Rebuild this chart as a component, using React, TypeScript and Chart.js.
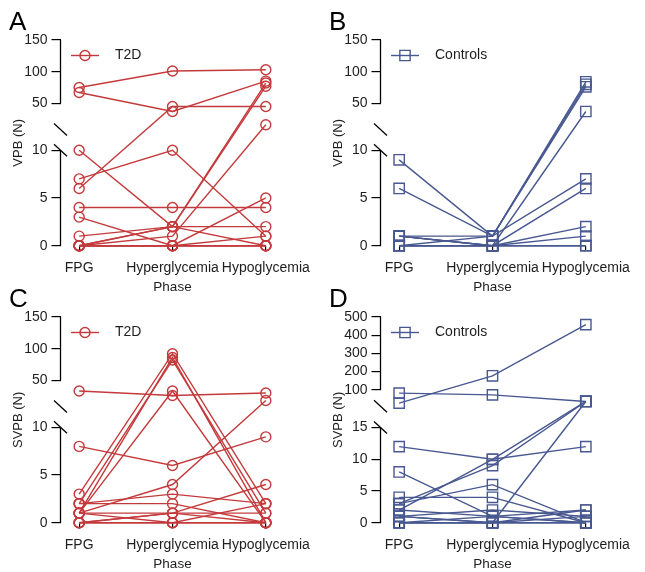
import React, { useEffect, useRef } from 'react';
import { Chart, registerables, LinearScale } from 'chart.js';

// ---------- data ----------
const phases = ['FPG', 'Hyperglycemia', 'Hypoglycemia'];

// each row: one subject [FPG, Hyperglycemia, Hypoglycemia]
const vpbT2D: number[][] = [
  [75, 101, 103],
  [67, 37, 85],
  [6, 45, 45],
  [7, 10, 1],
  [10, 2, 77],
  [0, 2, 82],
  [4, 4, 4],
  [3, 0, 0],
  [1, 2, 2],
  [0, 2, 0],
  [0, 1, 16],
  [0, 0, 5],
  [0, 0, 1],
  [0, 0, 0],
  [0, 0, 0],
];

const vpbControls: number[][] = [
  [9, 1, 84],
  [6, 1, 76],
  [0, 1, 80],
  [1, 0, 37],
  [1, 1, 7],
  [1, 0, 6],
  [0, 0, 2],
  [1, 0, 1],
  [0, 0, 0],
  [0, 0, 0],
];

const svpbT2D: number[][] = [
  [33, 26, 30],
  [8, 6, 9],
  [3, 92, 2],
  [1, 86, 0],
  [2, 82, 1],
  [1, 33, 0],
  [1, 4, 18],
  [2, 3, 2],
  [2, 2, 0],
  [0, 1, 4],
  [1, 1, 1],
  [1, 0, 0],
  [0, 1, 0],
  [0, 0, 2],
  [0, 0, 0],
];

const svpbControls: number[][] = [
  [27, 177, 458],
  [82, 72, 36],
  [12, 10, 12],
  [8, 1, 0],
  [3, 9, 36],
  [2, 10, 36],
  [0, 0, 36],
  [4, 4, 0],
  [3, 6, 0],
  [1, 2, 1],
  [2, 1, 2],
  [1, 0, 2],
  [0, 1, 0],
  [0, 0, 1],
  [0, 0, 0],
  [1, 0, 0],
];

const vpbLowerTicks = [0, 5, 10];
const vpbUpperTicks = [50, 100, 150];
const svpbT2DLowerTicks = [0, 5, 10];
const svpbT2DUpperTicks = [50, 100, 150];
const svpbCtrlLowerTicks = [0, 5, 10, 15];
const svpbCtrlUpperTicks = [100, 200, 300, 400, 500];

const RED = '#c43a3c';
const BLUE = '#485890';
const TEXT = '#1e1e1e';
const FONT = "'Liberation Sans', Arial, Helvetica, sans-serif";

// ---------- broken y scale ----------
class BrokenScale extends LinearScale {
  static id = 'broken';
  segs() {
    const b: any = (this.options as any).brk;
    const h = this.bottom - this.top;
    const lowH = h * b.lowFrac;
    const gapH = h * b.gapFrac;
    const upH = h - lowH - gapH;
    return { b, lowH, gapH, upH, lowTop: this.bottom - lowH, upBottom: this.top + upH };
  }
  getPixelForValue(value: number) {
    const { b, lowH, gapH, upH } = this.segs();
    if (value <= b.lowMax) return this.bottom - (value / b.lowMax) * lowH;
    if (value >= b.upMin) return this.top + ((b.upMax - value) / (b.upMax - b.upMin)) * upH;
    return this.bottom - lowH - ((value - b.lowMax) / (b.upMin - b.lowMax)) * gapH;
  }
  getValueForPixel(pixel: number) {
    const { b, lowH, upH, lowTop, upBottom } = this.segs();
    if (pixel >= lowTop) return ((this.bottom - pixel) / lowH) * b.lowMax;
    if (pixel <= upBottom) return b.upMax - ((pixel - this.top) / upH) * (b.upMax - b.upMin);
    return b.lowMax;
  }
}

Chart.register(...registerables, BrokenScale as any);
Chart.defaults.font.family = FONT;

type PanelCfg = {
  letter: string;
  subjects: number[][];
  color: string;
  pointStyle: 'circle' | 'rect';
  radius: number;
  legend: string;
  yTitle: string;
  lowerTicks: number[];
  upperTicks: number[];
  brk: { lowMax: number; upMin: number; upMax: number; lowFrac: number; gapFrac: number };
};

function Panel({ cfg, left, top, width, height }: { cfg: PanelCfg; left: number; top: number; width: number; height: number }) {
  const ref = useRef<HTMLCanvasElement>(null);
  useEffect(() => {
    const areaLeft = 60.5;
    const areaRight = areaLeft + 2.4 * 93.33;
    const ticksAll = [...cfg.lowerTicks, ...cfg.upperTicks];
    const extras = {
      id: 'extras',
      afterDraw(chart: any) {
        const ctx = chart.ctx as CanvasRenderingContext2D;
        const ys = chart.scales.y as any;
        const area = chart.chartArea;
        const s = ys.segs();
        const x = area.left;
        ctx.save();
        ctx.strokeStyle = '#000';
        ctx.lineWidth = 1.3;
        ctx.beginPath();
        ctx.moveTo(x, area.top);
        ctx.lineTo(x, ys.getPixelForValue(cfg.upperTicks[0]));
        ctx.stroke();
        ctx.beginPath();
        ctx.moveTo(x, ys.getPixelForValue(cfg.lowerTicks[cfg.lowerTicks.length - 1]));
        ctx.lineTo(x, area.bottom);
        ctx.stroke();
        for (const yc of [s.upBottom + 1, s.lowTop]) {
          ctx.beginPath();
          ctx.moveTo(x - 6.5, yc - 6);
          ctx.lineTo(x + 6.5, yc + 6);
          ctx.stroke();
        }
        // legend
        const ly = 55.5;
        ctx.strokeStyle = cfg.color;
        ctx.lineWidth = 1.4;
        ctx.beginPath();
        ctx.moveTo(71, ly);
        ctx.lineTo(99, ly);
        ctx.stroke();
        ctx.beginPath();
        if (cfg.pointStyle === 'circle') {
          ctx.arc(85, ly, cfg.radius, 0, Math.PI * 2);
        } else {
          const hs = cfg.radius * Math.SQRT1_2;
          ctx.rect(85 - hs, ly - hs, hs * 2, hs * 2);
        }
        ctx.stroke();
        ctx.fillStyle = TEXT;
        ctx.font = `14px ${FONT}`;
        ctx.textBaseline = 'middle';
        ctx.textAlign = 'left';
        ctx.fillText(cfg.legend, 115, ly);
        // panel letter
        ctx.fillStyle = '#000';
        ctx.font = `26px ${FONT}`;
        ctx.textBaseline = 'alphabetic';
        ctx.fillText(cfg.letter, 9, 30);
        ctx.restore();
      },
    };

    const chart = new Chart(ref.current!, {
      type: 'line',
      data: {
        datasets: cfg.subjects.map((vals) => ({
          data: vals.map((v, i) => ({ x: i, y: v })),
          borderColor: cfg.color,
          borderWidth: 1.4,
          pointStyle: cfg.pointStyle,
          pointRadius: cfg.radius,
          pointBorderWidth: 1.4,
          pointBorderColor: cfg.color,
          pointBackgroundColor: 'rgba(0,0,0,0)',
          tension: 0,
          fill: false,
          clip: false as any,
        })),
      },
      options: {
        animation: false,
        responsive: false,
        events: [],
        layout: { padding: { left: 0, top: 40, right: width - areaRight, bottom: 0 } },
        plugins: { legend: { display: false }, tooltip: { enabled: false } },
        scales: {
          x: {
            type: 'linear',
            min: -0.2,
            max: 2.2,
            afterBuildTicks: (s: any) => {
              s.ticks = phases.map((_, i) => ({ value: i }));
            },
            afterFit: (s: any) => {
              s.height = 49.3;
            },
            ticks: {
              callback: (v: any) => phases[v as number] ?? '',
              maxRotation: 0,
              minRotation: 0,
              autoSkip: false,
              padding: 9,
              color: TEXT,
              font: { size: 14 },
            },
            grid: { drawOnChartArea: false, drawTicks: true, tickLength: 5, color: '#000', lineWidth: 1.2 },
            border: { display: false },
            title: { display: true, text: 'Phase', padding: { top: 2, bottom: 0 }, color: TEXT, font: { size: 13.5 } },
          },
          y: {
            type: 'broken' as any,
            min: 0,
            max: cfg.brk.upMax,
            brk: cfg.brk,
            afterBuildTicks: (s: any) => {
              s.ticks = ticksAll.map((v) => ({ value: v }));
            },
            afterFit: (s: any) => {
              s.width = areaLeft;
            },
            ticks: {
              autoSkip: false,
              padding: 4,
              color: TEXT,
              font: { size: 14 },
              callback: (v: any) => String(v),
            },
            grid: { drawOnChartArea: false, drawTicks: true, tickLength: 9, color: '#000', lineWidth: 1.2 },
            border: { display: false },
            title: { display: true, text: cfg.yTitle, padding: { top: 10.5, bottom: 0 }, color: TEXT, font: { size: 13 } },
          } as any,
        },
      },
      plugins: [extras],
    });
    return () => chart.destroy();
  }, []);
  return (
    <canvas
      ref={ref}
      width={width}
      height={height}
      style={{ position: 'absolute', left, top, width, height }}
    />
  );
}

const brkStd = { lowMax: 10, upMin: 10, upMax: 150, lowFrac: 0.4638, gapFrac: 0.1055 };
const brkD = { lowMax: 15, upMin: 15, upMax: 500, lowFrac: 0.4625, gapFrac: 0.1083 };

const panels: { cfg: PanelCfg; left: number; top: number; width: number; height: number }[] = [
  {
    cfg: { letter: 'A', subjects: vpbT2D, color: RED, pointStyle: 'circle', radius: 5, legend: 'T2D', yTitle: 'VPB (N)', lowerTicks: vpbLowerTicks, upperTicks: vpbUpperTicks, brk: brkStd },
    left: 0, top: 0, width: 330, height: 295,
  },
  {
    cfg: { letter: 'B', subjects: vpbControls, color: BLUE, pointStyle: 'rect', radius: 7.3, legend: 'Controls', yTitle: 'VPB (N)', lowerTicks: vpbLowerTicks, upperTicks: vpbUpperTicks, brk: brkStd },
    left: 320, top: 0, width: 325, height: 295,
  },
  {
    cfg: { letter: 'C', subjects: svpbT2D, color: RED, pointStyle: 'circle', radius: 5, legend: 'T2D', yTitle: 'SVPB (N)', lowerTicks: svpbT2DLowerTicks, upperTicks: svpbT2DUpperTicks, brk: brkStd },
    left: 0, top: 277, width: 330, height: 295,
  },
  {
    cfg: { letter: 'D', subjects: svpbControls, color: BLUE, pointStyle: 'rect', radius: 7.3, legend: 'Controls', yTitle: 'SVPB (N)', lowerTicks: svpbCtrlLowerTicks, upperTicks: svpbCtrlUpperTicks, brk: brkD },
    left: 320, top: 277, width: 325, height: 295,
  },
];

export default function App() {
  return (
    <div style={{ position: 'absolute', left: 0, top: 0, width: 645, height: 572, background: '#fff' }}>
      {panels.map((p, i) => (
        <Panel key={i} {...p} />
      ))}
    </div>
  );
}
